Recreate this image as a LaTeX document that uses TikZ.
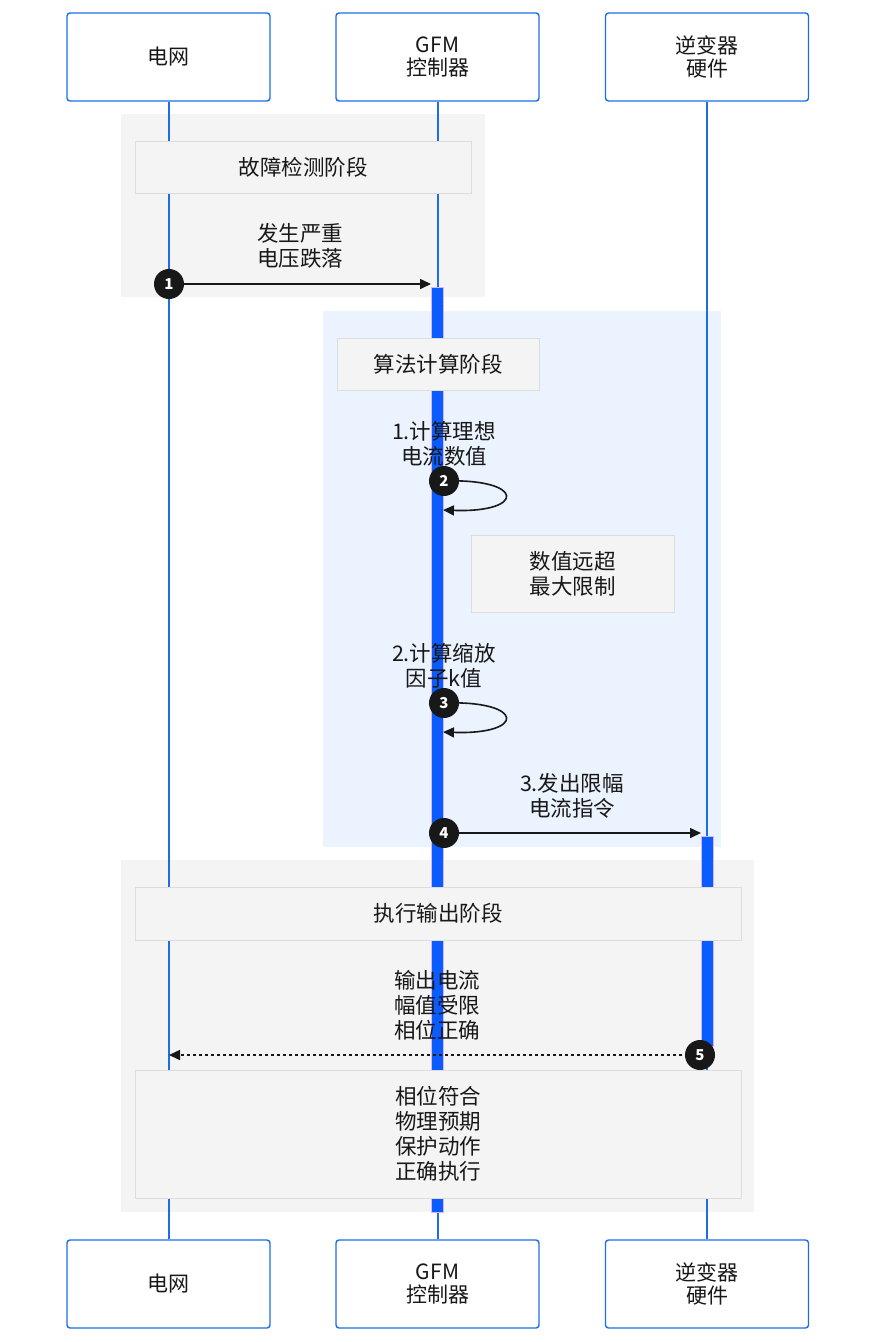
\documentclass[tikz,border=0pt]{standalone}
\usepackage{fontspec}
\setmainfont{Noto Sans CJK SC}
\usetikzlibrary{arrows.meta}
\definecolor{lifeblue}{RGB}{28,110,230}
\definecolor{barblue}{RGB}{10,92,255}
\definecolor{barrim}{RGB}{215,180,255}
\definecolor{secgray}{RGB}{244,244,244}
\definecolor{secblue}{RGB}{235,243,255}
\definecolor{labrim}{RGB}{221,221,221}
\definecolor{ink}{RGB}{24,24,24}
\tikzset{
  actor/.style={draw=lifeblue, line width=1.4pt, fill=white, rounded corners=3pt,
    minimum width=203pt, minimum height=88pt, align=center, inner sep=0pt,
    font=\fontsize{21}{23}\selectfont, text=ink},
  lifeline/.style={draw=lifeblue, line width=2pt},
  actbar/.style={fill=barblue, draw=barrim, line width=0.8pt},
  labelbox/.style={fill=secgray, draw=labrim, line width=1pt},
  msgtext/.style={align=center, font=\fontsize{21.5}{25}\selectfont, inner sep=0pt, text=ink},
  msg/.style={draw=ink, line width=1.6pt, -{Triangle[length=11pt,width=10pt]}},
  dotmsg/.style={msg, dash pattern=on 3pt off 3pt},
  seqnum/.style={circle, fill=ink, draw=none, minimum size=30pt, inner sep=0pt,
    text=white, font=\fontsize{15}{15}\selectfont\bfseries},
}
\begin{document}
\begin{tikzpicture}[x=1pt,y=-1pt]
\useasboundingbox (0,0) rectangle (876,1342);
% section backgrounds
\fill[secgray] (121,114) rectangle (485,297);
\fill[secblue] (323,311) rectangle (721,847);
\fill[secgray] (121,860) rectangle (754,1212);
% actors
\node[actor] (gridT) at (168.5,57) {电网};
\node[actor] (gfmT) at (437.5,57) {GFM\\控制器};
\node[actor] (invT) at (707,57) {逆变器\\硬件};
\node[actor] (gridB) at (168.5,1284) {电网};
\node[actor] (gfmB) at (437.5,1284) {GFM\\控制器};
\node[actor] (invB) at (707,1284) {逆变器\\硬件};
% lifelines
\draw[lifeline] (gridT.south) -- (gridB.north);
\draw[lifeline] (gfmT.south) -- (gfmB.north);
\draw[lifeline] (invT.south) -- (invB.north);
% activation bars
\draw[actbar] (431,287) rectangle (443,1212);
\draw[actbar] (701,836) rectangle (713,1046);
% phase labels and notes
\node[labelbox, minimum width=336pt, minimum height=52pt, msgtext] (ph1) at (303,167) {故障检测阶段};
\node[labelbox, minimum width=202pt, minimum height=52pt, msgtext] (ph2) at (438,364) {算法计算阶段};
\node[labelbox, minimum width=203pt, minimum height=77pt, msgtext] (note1) at (572.5,573.5) {数值远超\\最大限制};
\node[labelbox, minimum width=606pt, minimum height=53pt, msgtext] (ph3) at (438,913.5) {执行输出阶段};
\node[labelbox, minimum width=606pt, minimum height=128pt, msgtext] (note2) at (438,1134) {相位符合\\物理预期\\保护动作\\正确执行};
% messages
\node[msgtext] (t1) at (300,246) {发生严重\\电压跌落};
\coordinate (m1s) at (169,284);
\coordinate (m1e) at (431,284);
\draw[msg] (m1s) -- (m1e);
\node[seqnum] (n1) at (m1s) {1};

\node[msgtext] (t2) at (444,443.5) {1.计算理想\\电流数值};
\coordinate (m2s) at (443,481);
\coordinate (m2e) at (443,510);
\draw[msg] (m2s) .. controls (526,478) and (526,513) .. (m2e);
\node[seqnum] (n2) at (444,481) {2};

\node[msgtext] (t3) at (444,665.5) {2.计算缩放\\因子k值};
\coordinate (m3s) at (443,703);
\coordinate (m3e) at (443,732);
\draw[msg] (m3s) .. controls (526,700) and (526,735) .. (m3e);
\node[seqnum] (n3) at (444,703) {3};

\node[msgtext] (t4) at (572,795.5) {3.发出限幅\\电流指令};
\coordinate (m4s) at (444,833);
\coordinate (m4e) at (701,833);
\draw[msg] (m4s) -- (m4e);
\node[seqnum] (n4) at (m4s) {4};

\node[msgtext] (t5) at (437,1005) {输出电流\\幅值受限\\相位正确};
\coordinate (m5s) at (700,1055);
\coordinate (m5e) at (169,1055);
\draw[dotmsg] (m5s) -- (m5e);
\node[seqnum] (n5) at (m5s) {5};
\end{tikzpicture}
\end{document}
